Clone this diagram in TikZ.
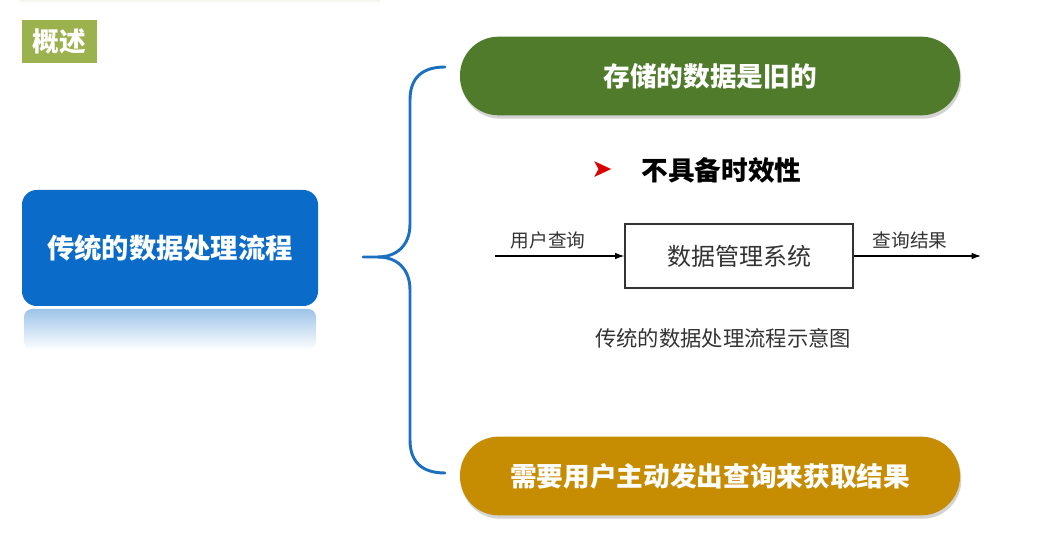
\documentclass[tikz,border=0pt]{standalone}
\usepackage{fontspec}
\setmainfont{Liberation Sans}
\newfontfamily\cjk{Noto Sans CJK SC}
\newfontfamily\symfont{DejaVu Sans}
\usetikzlibrary{arrows.meta,shadows,positioning}
\definecolor{tagGreen}{HTML}{9BB24E}
\definecolor{mainBlue}{HTML}{0B6BC8}
\definecolor{oldGreen}{HTML}{4F7B2A}
\definecolor{queryGold}{HTML}{C68C02}
\definecolor{braceBlue}{HTML}{1D6FC0}
\definecolor{flowText}{HTML}{333333}

\begin{document}
\begin{tikzpicture}[x=.75pt,y=-.75pt,line width=.75pt,
  tagbox/.style={fill=tagGreen,text=white,minimum width=56pt,minimum height=32pt,inner sep=0pt,font=\cjk\bfseries\fontsize{20}{22}\selectfont},
  mainbox/.style={fill=mainBlue,text=white,rounded corners=11pt,minimum width=222pt,minimum height=87pt,font=\cjk\bfseries\fontsize{20.5}{24}\selectfont},
  pill/.style={text=white,rounded corners=29pt,minimum width=375pt,minimum height=59pt,font=\cjk\bfseries\fontsize{20}{24}\selectfont,
    drop shadow={opacity=.35,shadow xshift=1pt,shadow yshift=-2.5pt}},
  sysbox/.style={draw=flowText,line width=.9pt,minimum width=171pt,minimum height=48pt,text=flowText,font=\cjk\fontsize{18}{20}\selectfont},
  flowlabel/.style={text=flowText,inner sep=1pt,font=\cjk\fontsize{14}{16}\selectfont},
  flow/.style={draw=black,line width=.9pt,-{Latex[length=7pt,width=5pt]}}]
\path[use as bounding box] (0,0) rectangle (1058,548);
\draw[yellow!30!gray!12,line width=1.5pt] (20,1) -- (380,1);
% overview tag
\node[tagbox] (tag) at (59.5,41.5) {概述};
% left block with its reflection
\shade[top color=mainBlue!40,bottom color=white,rounded corners=6pt] (24,309) rectangle (316,350);
\node[mainbox] (main) at (170,248) {传统的数据处理流程};
% brace
\draw[braceBlue,line width=2.2pt,line cap=round] (445,67) .. controls (422,67) and (410,78) .. (410,100) -- (410,224)
  .. controls (410,246) and (396,257) .. (378,257) -- (363,257);
\draw[braceBlue,line width=2.2pt,line cap=round] (378,257) .. controls (396,257) and (410,268) .. (410,290) -- (410,440)
  .. controls (410,462) and (422,473) .. (445,473);
% right column
\node[pill,fill=oldGreen] (old) at (710,76) {存储的数据是旧的};
\node[pill,fill=queryGold] (active) at (710,476) {需要用户主动发出查询来获取结果};
\node[text=red!85!black,inner sep=0pt,font=\symfont\fontsize{19}{20}\selectfont] (bullet) at (602,170) {➤};
\node[anchor=west,inner sep=0pt,font=\cjk\bfseries\fontsize{20}{24}\selectfont] (point) at (641,170) {不具备时效性};
% flow
\node[sysbox] (dbms) at (739,256) {数据管理系统};
\coordinate (qin) at (495,256);
\coordinate (qout) at (981,256);
\draw[flow] (qin) -- (dbms);
\draw[flow] (dbms) -- (qout);
\node[flowlabel] (qlabel) at (548,240) {用户查询};
\node[flowlabel] (rlabel) at (910,240) {查询结果};
\node[text=flowText,font=\cjk\fontsize{16}{18}\selectfont] (caption) at (723,338) {传统的数据处理流程示意图};
\end{tikzpicture}
\end{document}
